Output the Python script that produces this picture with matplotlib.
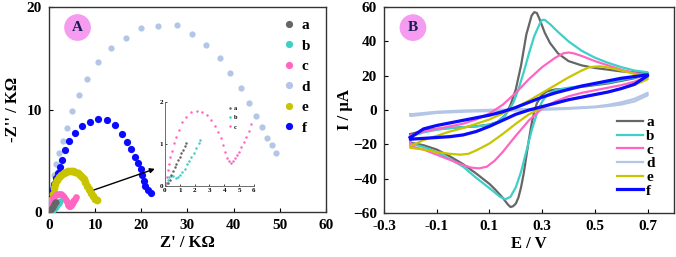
import matplotlib
matplotlib.use('Agg')

import matplotlib.pyplot as plt
from matplotlib.lines import Line2D

plt.rcParams['font.family'] = ['Liberation Serif', 'DejaVu Serif']
plt.rcParams['font.weight'] = 'bold'
plt.rcParams['mathtext.default'] = 'regular'

# ---- panel A: Nyquist data (kOhm) ----
a_zre = [0.0, 0.2, 0.31, 0.43, 0.54, 0.65, 0.76, 0.88, 0.99, 1.10, 1.21, 1.33, 1.44]
a_zim = [0.0, 0.06, 0.15, 0.25, 0.35, 0.44, 0.53, 0.61, 0.69, 0.77, 0.85, 0.94, 1.02]

b_zre = [0.0, 0.13, 0.2, 0.27, 0.38, 0.54, 0.72, 0.88, 1.03, 1.17, 1.33, 1.48, 1.62,
         1.78, 1.93, 2.11, 2.27, 2.36]
b_zim = [0.0, 0.06, 0.15, 0.21, 0.24, 0.23, 0.19, 0.2, 0.25, 0.33, 0.41, 0.52, 0.6,
         0.69, 0.79, 0.91, 1.01, 1.09]

c_zre = [0.0, 0.09, 0.13, 0.2, 0.27, 0.36, 0.47, 0.61, 0.76, 0.94, 1.15, 1.44, 1.78,
         2.18, 2.52, 2.83, 3.12, 3.35, 3.57, 3.75, 3.91, 4.07, 4.2, 4.31, 4.45, 4.58,
         4.72, 4.85, 4.99, 5.15, 5.3, 5.48, 5.64, 5.82]
c_zim = [0.0, 0.06, 0.21, 0.37, 0.53, 0.69, 0.83, 1.01, 1.17, 1.34, 1.51, 1.64, 1.75,
         1.79, 1.75, 1.68, 1.56, 1.43, 1.29, 1.13, 0.97, 0.81, 0.67, 0.59, 0.55, 0.59,
         0.65, 0.73, 0.81, 0.93, 1.05, 1.17, 1.31, 1.46]

d_zre = [0.0, 0.14, 0.5, 1.0, 1.6, 2.2, 3.0, 3.8, 4.9, 6.4, 8.3, 10.7, 13.5, 16.7,
         20.0, 23.7, 27.8, 31.0, 34.1, 37.0, 39.3, 41.6, 43.4, 44.8, 46.1, 47.3, 48.3, 49.2]
d_zim = [0.0, 1.05, 2.35, 3.66, 4.64, 5.75, 6.93, 8.24, 9.87, 11.4, 13.0, 14.6, 16.0,
         17.0, 18.0, 18.1, 18.2, 17.4, 16.3, 15.0, 13.6, 12.1, 10.65, 9.4, 8.3, 7.25,
         6.5, 5.75]

e_zre = [0.0, 0.2, 0.5, 0.8, 1.1, 1.4, 1.8, 2.2, 2.7, 3.2, 3.7, 4.2, 4.7, 5.2, 5.7,
         6.2, 6.7, 7.1, 7.5, 7.9, 8.3, 8.7, 9.1, 9.5, 9.9, 10.3]
e_zim = [0.0, 0.5, 1.2, 1.8, 2.3, 2.7, 3.1, 3.4, 3.65, 3.82, 3.93, 3.98, 4.0, 3.98,
         3.92, 3.82, 3.65, 3.45, 3.2, 2.9, 2.55, 2.2, 1.85, 1.55, 1.3, 1.15]

f_zre = [0.0, 0.22, 0.43, 0.72, 1.01, 1.44, 1.88, 2.45, 2.89, 3.47, 4.33, 5.63, 7.08,
         8.88, 10.68, 12.56, 14.3, 15.74, 16.9, 17.76, 18.63, 19.35, 19.93, 20.22,
         20.5, 20.79, 21.37, 22.1]
f_zim = [0.2, 0.85, 1.5, 2.15, 2.73, 3.29, 3.84, 4.42, 5.07, 6.05, 6.93, 7.67, 8.39,
         8.81, 9.04, 8.98, 8.49, 7.61, 6.86, 6.11, 5.4, 4.75, 4.16, 3.61, 3.05, 2.54,
         2.15, 1.82]

# ---- panel B: cyclic voltammograms (forward then reverse scan) ----
a_E = [-0.2, -0.15, -0.1, -0.05, 0.0, 0.05, 0.1, 0.13, 0.16, 0.18, 0.2, 0.22, 0.24, 0.26,
       0.27, 0.28, 0.29, 0.31, 0.33, 0.36, 0.4, 0.45, 0.5, 0.55, 0.6, 0.65, 0.7,
       0.7, 0.65, 0.6, 0.55, 0.5, 0.45, 0.4, 0.35, 0.32, 0.3, 0.28, 0.27, 0.26, 0.25,
       0.24, 0.23, 0.22, 0.21, 0.2, 0.19, 0.18, 0.17, 0.15, 0.12, 0.1, 0.05, 0.0,
       -0.05, -0.1, -0.15, -0.2, -0.2]
a_I = [-14, -12, -11, -10.5, -10, -9.5, -8.5, -7, -3, 3, 12, 26, 44, 55, 57, 56.5, 53, 45,
       39, 33, 28.5, 26, 24.5, 23.5, 22.5, 22, 21.5,
       21, 18.5, 17, 15.5, 14.5, 13.5, 12.5, 12, 11, 9, 4, -1, -8, -17, -27, -37, -45,
       -51, -54.5, -56, -56.5, -55, -51, -46, -43, -37, -31.5, -27, -23, -20.5, -19, -14]

b_E = [-0.2, -0.15, -0.1, -0.05, 0, 0.05, 0.1, 0.13, 0.16, 0.19, 0.21, 0.23, 0.25, 0.27,
       0.29, 0.3, 0.31, 0.33, 0.36, 0.4, 0.45, 0.5, 0.55, 0.6, 0.65, 0.7,
       0.7, 0.65, 0.6, 0.55, 0.5, 0.45, 0.4, 0.35, 0.32, 0.3, 0.28, 0.26, 0.24, 0.22,
       0.2, 0.18, 0.16, 0.14, 0.12, 0.1, 0.05, 0, -0.05, -0.1, -0.15, -0.2, -0.2]
b_I = [-15.5, -13, -11.5, -10.5, -10, -9.5, -8.5, -7, -3, 4, 12, 22, 33, 43, 50, 52.5,
       52.5, 50, 45.5, 40, 34.5, 30.5, 27.5, 25, 23, 22,
       21, 19, 17.5, 16, 15, 14, 13, 11.5, 9, 5, -2, -12, -24, -36, -45, -50.5, -52,
       -50.5, -48, -45.5, -39.5, -33, -28.5, -24.5, -21.5, -19.5, -15.5]

c_E = [-0.2, -0.15, -0.1, -0.05, 0, 0.05, 0.1, 0.15, 0.2, 0.25, 0.3, 0.35, 0.38, 0.4, 0.42,
       0.45, 0.5, 0.55, 0.6, 0.65, 0.7,
       0.7, 0.65, 0.6, 0.55, 0.5, 0.45, 0.4, 0.35, 0.3, 0.25, 0.2, 0.15, 0.12, 0.09,
       0.06, 0.03, 0, -0.05, -0.1, -0.15, -0.2, -0.2]
c_I = [-15, -12.5, -11, -9.5, -8, -5.5, -2, 3, 10, 18, 25, 30.5, 33, 33.5, 33, 31.5, 28.5,
       26, 23.5, 21.5, 20,
       19.5, 16.5, 14.5, 13, 11.5, 10, 8, 5, 1, -6, -15, -24.5, -29.5, -33, -34, -33.5,
       -32, -29, -26, -23, -21, -15]

d_E = [-0.2, -0.1, 0, 0.1, 0.2, 0.3, 0.4, 0.5, 0.55, 0.6, 0.65, 0.7,
       0.7, 0.65, 0.6, 0.55, 0.5, 0.4, 0.3, 0.2, 0.1, 0, -0.1, -0.2, -0.2]
d_I = [-2.5, -1, -0.3, 0.1, 0.4, 0.7, 1.2, 2, 3, 4.5, 6.5, 10,
       8.5, 5, 3.2, 2.3, 1.6, 0.7, 0.1, -0.3, -0.6, -1, -1.7, -3.5, -2.5]

e_E = [-0.2, -0.15, -0.1, -0.05, 0, 0.05, 0.1, 0.15, 0.2, 0.25, 0.3, 0.35, 0.4, 0.45,
       0.48, 0.52, 0.56, 0.6, 0.65, 0.7,
       0.7, 0.65, 0.6, 0.55, 0.5, 0.45, 0.4, 0.35, 0.3, 0.25, 0.2, 0.15, 0.1, 0.05, 0.02,
       -0.01, -0.05, -0.1, -0.15, -0.2, -0.2]
e_I = [-21, -17.5, -15, -12.5, -10.5, -8, -5.5, -2, 1.5, 5.5, 10, 14.5, 19, 23, 25, 25.5,
       24.5, 23, 21, 19,
       18, 14.5, 12.5, 10.5, 9, 7.5, 6, 4, 1.5, -2.5, -8, -14, -19.5, -23.5, -25.5, -26,
       -25.5, -24.5, -23, -22, -21]

f_E = [-0.2, -0.15, -0.1, -0.05, 0, 0.05, 0.1, 0.15, 0.2, 0.25, 0.3, 0.35, 0.4, 0.45, 0.5,
       0.55, 0.6, 0.65, 0.7,
       0.7, 0.65, 0.6, 0.55, 0.5, 0.45, 0.4, 0.35, 0.3, 0.25, 0.2, 0.15, 0.1, 0.05, 0,
       -0.05, -0.1, -0.15, -0.2, -0.2]
f_I = [-16, -11, -9, -7.5, -6, -4.5, -3, -1, 1.5, 4.5, 7.5, 10, 12, 14, 15.5, 17, 18.5,
       19.5, 20.5,
       20, 15, 12.5, 10.5, 9, 7.5, 6, 4, 2, 0, -2.5, -6, -9.5, -12.5, -14.5, -15.5, -16,
       -16.5, -17, -16]

labels = ['a', 'b', 'c', 'd', 'e', 'f']
colors = ['#666666', '#3ecfc9', '#ff66c4', '#b3c6e6', '#c9c400', '#0a0aff']

nyq = [(a_zre, a_zim), (b_zre, b_zim), (c_zre, c_zim),
       (d_zre, d_zim), (e_zre, e_zim), (f_zre, f_zim)]
cvs = [(a_E, a_I), (b_E, b_I), (c_E, c_I), (d_E, d_I), (e_E, e_I), (f_E, f_I)]

fig = plt.figure(figsize=(6.76, 2.57), dpi=100)
axA = fig.add_axes([0.0725, 0.175, 0.4097, 0.7977])
axB = fig.add_axes([0.568, 0.171, 0.429, 0.8017])

for ax in (axA, axB):
    ax.tick_params(direction='in', length=3, width=0.8, labelsize=11, pad=5)
    for s in ax.spines.values():
        s.set_color('#333333')
        s.set_linewidth(1.0)

# panel A
msize = [4.5, 4.5, 4.8, 4.5, 5.6, 5.2]
order = [3, 5, 4, 2, 1, 0]
for i in order:
    x, y = nyq[i]
    axA.plot(x, y, 'o', ms=msize[i], color=colors[i], mec='none', label=labels[i],
             zorder=2 + order.index(i))
axA.set_xlim(0, 60)
axA.set_ylim(0, 20)
axA.set_xticks([0, 10, 20, 30, 40, 50, 60])
axA.set_yticks([0, 10, 20])
axA.set_xlabel("Z' / KΩ", fontsize=12, fontweight='bold', labelpad=2)
axA.set_ylabel("-Z'' / KΩ", fontsize=12, fontweight='bold', labelpad=4)
handles = [Line2D([], [], ls='none', marker='o', ms=5.2, color=c, mec='none') for c in colors]
axA.legend(handles, labels, loc='upper right', bbox_to_anchor=(0.965, 0.975), frameon=False,
           fontsize=11, handlelength=0.6, handletextpad=0.5, labelspacing=0.45,
           borderaxespad=0)
axA.text(0.103, 0.9, 'A', transform=axA.transAxes, ha='center', va='center',
         fontsize=11, fontweight='bold', color='#1b1b55',
         bbox=dict(boxstyle='circle,pad=0.45', fc='#f59cf1', ec='none'))
axA.annotate('', xy=(23.5, 4.3), xytext=(7.8, 1.85),
             arrowprops=dict(arrowstyle='-|>', color='black', lw=1.0, mutation_scale=7))

# inset
axI = fig.add_axes([0.244, 0.277, 0.1317, 0.327])
axI.patch.set_alpha(0)
for i in [2, 1, 0]:
    x, y = nyq[i]
    axI.plot(x, y, 'o', ms=1.8, color=colors[i], mec='none')
axI.set_xlim(0, 6)
axI.set_ylim(0, 2)
axI.set_xticks(range(7))
axI.set_yticks([0, 1, 2])
axI.spines['top'].set_visible(False)
axI.spines['right'].set_visible(False)
for s in ('left', 'bottom'):
    axI.spines[s].set_linewidth(0.6)
    axI.spines[s].set_color('#555555')
axI.tick_params(direction='in', length=1.5, width=0.5, labelsize=5, pad=1.5)
ih = [Line2D([], [], ls='none', marker='o', ms=1.8, color=colors[i], mec='none') for i in range(3)]
axI.legend(ih, labels[:3], loc='upper left', bbox_to_anchor=(0.68, 0.98), frameon=False,
           prop={'size': 4.5, 'family': 'Liberation Serif'}, handlelength=0.5,
           handletextpad=0.4, labelspacing=0.6, borderaxespad=0)

# panel B
lw = [1.6, 1.6, 1.6, 1.6, 1.6, 2.3]
for i in [3, 0, 1, 2, 4, 5]:
    E, I = cvs[i]
    axB.plot(E, I, '-', lw=lw[i], color=colors[i], label=labels[i], zorder=3 if i == 5 else 2)
axB.set_xlim(-0.3, 0.8)
axB.set_ylim(-60, 60)
axB.set_xticks([-0.3, -0.1, 0.1, 0.3, 0.5, 0.7])
axB.set_xticklabels(['-0.3', '-0.1', '0.1', '0.3', '0.5', '0.7'])
axB.set_yticks(range(-60, 61, 20))
axB.set_xlabel('E / V', fontsize=12, fontweight='bold', labelpad=2)
axB.set_ylabel('I / μA', fontsize=12, fontweight='bold', labelpad=0)
lh = [Line2D([], [], color=colors[i], lw=lw[i]) for i in range(6)]
axB.legend(lh, labels, loc='lower right', bbox_to_anchor=(0.955, 0.045), frameon=False,
           fontsize=11, handlelength=1.7, handletextpad=0.2, labelspacing=0.0,
           borderaxespad=0)
axB.text(0.1, 0.9, 'B', transform=axB.transAxes, ha='center', va='center',
         fontsize=11, fontweight='bold', color='#1b1b55',
         bbox=dict(boxstyle='circle,pad=0.45', fc='#f59cf1', ec='none'))

fig.savefig('out.png', dpi=100)
